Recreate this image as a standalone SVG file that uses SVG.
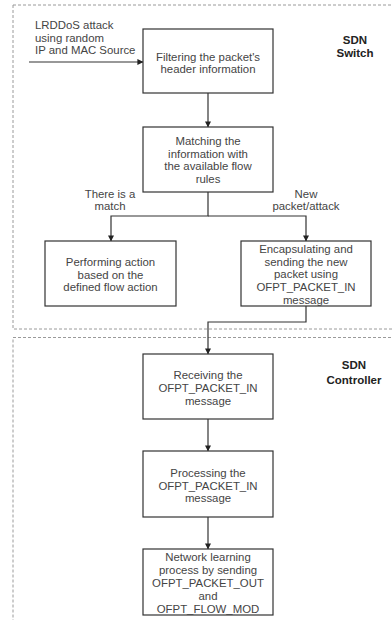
<svg xmlns="http://www.w3.org/2000/svg" width="392" height="620" viewBox="0 0 392 620">
  <style>
    .zone { fill: none; stroke: #9a9a9a; stroke-width: 1; stroke-dasharray: 3 2; }
    .box { fill: #ffffff; stroke: #333333; stroke-width: 1.2; }
    .txt { font-family: "Liberation Sans", Arial, sans-serif; font-size: 11.4px; fill: #444444; text-anchor: middle; }
    .lbl { font-family: "Liberation Sans", Arial, sans-serif; font-size: 11.4px; fill: #444444; }
    .zt { font-family: "Liberation Sans", Arial, sans-serif; font-size: 11.5px; font-weight: bold; fill: #222222; text-anchor: middle; }
    .edge { fill: none; stroke: #333333; stroke-width: 1.2; }
  </style>
  <defs>
    <marker id="arrow" viewBox="0 0 8 8" refX="7.5" refY="4" markerWidth="6" markerHeight="6" markerUnits="userSpaceOnUse" orient="auto">
      <path d="M0,0 L8,4 L0,8 Z" fill="#222222"/>
    </marker>
  </defs>
  <rect width="392" height="620" fill="#ffffff"/>

  <!-- dotted zones -->
  <g id="zone-switch">
    <rect class="zone" x="13" y="5" width="400" height="324"/>
    <text class="zt" x="355" y="43.5">SDN</text>
    <text class="zt" x="355" y="56.5">Switch</text>
  </g>
  <g id="zone-controller">
    <rect class="zone" x="13" y="337.5" width="400" height="300"/>
    <text class="zt" x="354" y="368.5">SDN</text>
    <text class="zt" x="354" y="383.5">Controller</text>
  </g>

  <!-- connectors -->
  <g id="connectors">
    <line class="edge" x1="29" y1="62" x2="143" y2="62" marker-end="url(#arrow)"/>
    <line class="edge" x1="208" y1="93" x2="208" y2="127" marker-end="url(#arrow)"/>
    <polyline class="edge" points="208,192 208,216 111,216 111,241" marker-end="url(#arrow)"/>
    <polyline class="edge" points="208,216 306,216 306,241" marker-end="url(#arrow)"/>
    <polyline class="edge" points="306,306 306,322 208,322 208,354" marker-end="url(#arrow)"/>
    <line class="edge" x1="208" y1="419" x2="208" y2="451" marker-end="url(#arrow)"/>
    <line class="edge" x1="208" y1="517" x2="208" y2="549" marker-end="url(#arrow)"/>
  </g>

  <!-- edge labels -->
  <g id="edge-labels">
    <text class="lbl" x="35" y="29">LRDDoS attack</text>
    <text class="lbl" x="35" y="41.5">using random</text>
    <text class="lbl" x="35" y="54">IP and MAC Source</text>
    <text class="txt" x="110" y="198">There is a</text>
    <text class="txt" x="110" y="210">match</text>
    <text class="txt" x="306" y="198">New</text>
    <text class="txt" x="306" y="210">packet/attack</text>
  </g>

  <g id="filter">
    <rect class="box" x="143" y="29" width="130" height="64"/>
    <text class="txt" x="208" y="61">Filtering the packet's</text>
    <text class="txt" x="208" y="72.5">header information</text>
  </g>

  <g id="match">
    <rect class="box" x="143" y="127" width="130" height="65"/>
    <text class="txt" x="208" y="145">Matching the</text>
    <text class="txt" x="208" y="157.5">information with</text>
    <text class="txt" x="208" y="170">the available flow</text>
    <text class="txt" x="208" y="183">rules</text>
  </g>

  <g id="perform">
    <rect class="box" x="45" y="241" width="131" height="65"/>
    <text class="txt" x="110.5" y="266">Performing action</text>
    <text class="txt" x="110.5" y="278.5">based on the</text>
    <text class="txt" x="110.5" y="291">defined flow action</text>
  </g>

  <g id="encapsulate">
    <rect class="box" x="241" y="241" width="130" height="65"/>
    <text class="txt" x="306" y="252.5">Encapsulating and</text>
    <text class="txt" x="306" y="265.5">sending the new</text>
    <text class="txt" x="306" y="278">packet using</text>
    <text class="txt" x="306" y="291">OFPT_PACKET_IN</text>
    <text class="txt" x="306" y="304">message</text>
  </g>

  <g id="receive">
    <rect class="box" x="143" y="354" width="130" height="65"/>
    <text class="txt" x="208" y="378.5">Receiving the</text>
    <text class="txt" x="208" y="391.5">OFPT_PACKET_IN</text>
    <text class="txt" x="208" y="405">message</text>
  </g>

  <g id="process">
    <rect class="box" x="143" y="451" width="130" height="66"/>
    <text class="txt" x="208" y="477">Processing the</text>
    <text class="txt" x="208" y="489.5">OFPT_PACKET_IN</text>
    <text class="txt" x="208" y="502">message</text>
  </g>

  <g id="learning">
    <rect class="box" x="143" y="549" width="130" height="66"/>
    <text class="txt" x="208" y="561">Network learning</text>
    <text class="txt" x="208" y="574">process by sending</text>
    <text class="txt" x="208" y="586.5">OFPT_PACKET_OUT</text>
    <text class="txt" x="208" y="600">and</text>
    <text class="txt" x="208" y="613">OFPT_FLOW_MOD</text>
  </g>
</svg>
